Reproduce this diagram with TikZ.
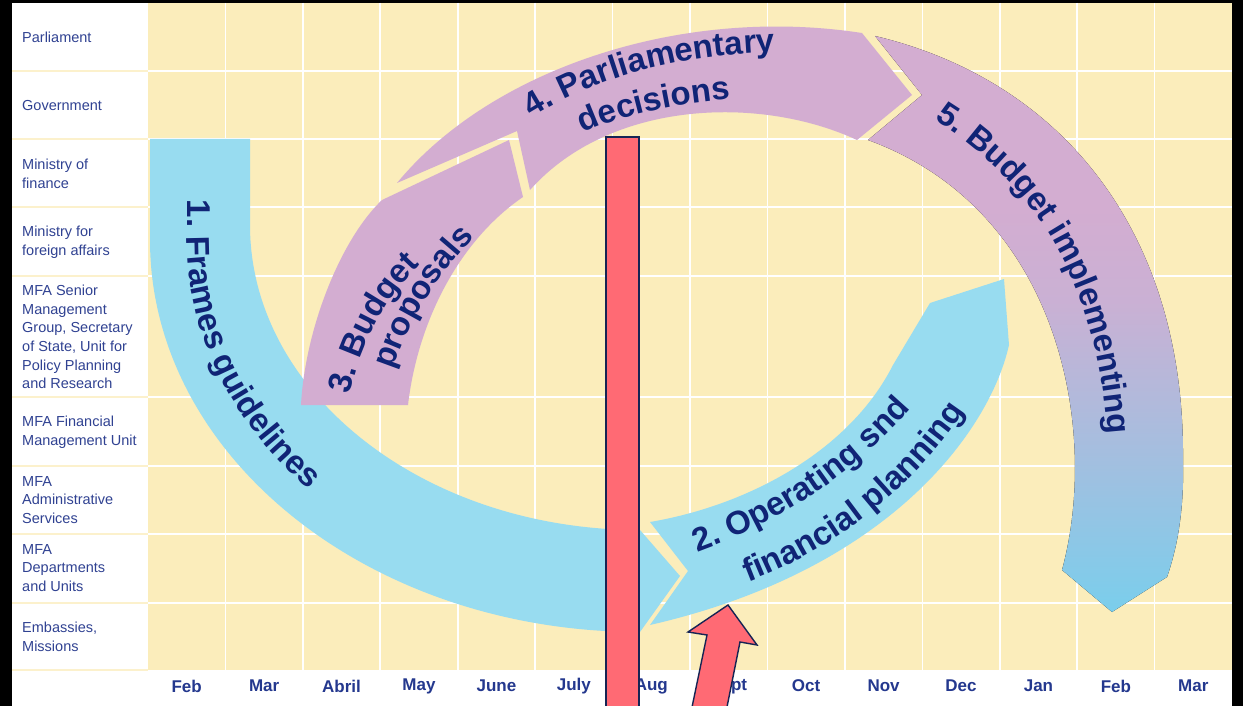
\documentclass[tikz,border=0pt]{standalone}
\usepackage{fontspec}
\setmainfont{Liberation Sans}
\usetikzlibrary{decorations.text}

\definecolor{bgYellow}{RGB}{251,237,187}
\definecolor{sepYellow}{RGB}{252,241,204}
\definecolor{arrBlue}{RGB}{152,220,240}
\definecolor{arrBlueEnd}{RGB}{122,206,236}
\definecolor{arrPurple}{RGB}{211,173,209}
\definecolor{txtNavy}{RGB}{16,36,118}
\definecolor{rowTxt}{RGB}{48,66,146}
\definecolor{monthTxt}{RGB}{36,56,142}
\definecolor{barRed}{RGB}{255,106,116}
\definecolor{barEdge}{RGB}{22,36,84}
\colorlet{implLow}{arrPurple!45!arrBlueEnd}
\colorlet{implHigh}{arrPurple!90!arrBlueEnd}

\pgfdeclareverticalshading{implshade}{100bp}{color(0bp)=(arrBlueEnd); color(25bp)=(arrBlueEnd);
  color(38bp)=(implLow); color(52bp)=(implHigh); color(60bp)=(arrPurple); color(100bp)=(arrPurple)}

\newcommand{\arrowtext}{\fontsize{33}{35}\selectfont\bfseries}

\begin{document}
\begin{tikzpicture}[x=1pt,y=-1pt]
\tikzset{
  row label/.style   = {anchor=west, align=left, text=rowTxt, inner sep=0,
                        font=\fontsize{14.5}{18.7}\selectfont},
  month label/.style = {text=monthTxt, inner sep=0, font=\fontsize{17}{17}\selectfont\bfseries},
  grid line/.style   = {draw=white, line width=1.6pt},
  sep line/.style    = {draw=sepYellow, line width=2.6pt},
  arrow blue/.style  = {fill=arrBlue},
  arrow purple/.style= {fill=arrPurple},
  arrow text/.style  = {decorate, decoration={text along path, text color=txtNavy, text={|\arrowtext|#1}}},
  red mark/.style    = {fill=barRed, draw=barEdge, line width=1.4pt, line join=miter}
}
\useasboundingbox (0,0) rectangle (1243,706);

% frame and grid
\fill[black] (0,0) rectangle (1243,706);
\fill[white] (12,3) rectangle (1232,706);
\fill[bgYellow] (148,3) rectangle (1232,670);
\foreach \k in {1,...,13}
  \draw[grid line] ({148+\k*77.43},3) -- ({148+\k*77.43},670);
\foreach \r in {71,139,207,276,397,466,534,603}
  \draw[grid line] (148,\r) -- (1232,\r);
\foreach \r in {71,139,207,276,397,466,534,603,670}
  \draw[sep line] (12,\r) -- (148,\r);

% rows
\node[row label] (parl) at (22,37)  {Parliament};
\node[row label] (gov)  at (22,106) {Government};
\node[row label] (mof)  at (22,174) {Ministry of\\finance};
\node[row label] (mfa)  at (22,242) {Ministry for\\foreign affairs};
\node[row label] (smg)  at (22,337) {MFA Senior\\Management\\Group, Secretary\\of State, Unit for\\Policy Planning\\and Research};
\node[row label] (fmu)  at (22,432) {MFA Financial\\Management Unit};
\node[row label] (adm)  at (22,500) {MFA\\Administrative\\Services};
\node[row label] (dep)  at (22,568) {MFA\\Departments\\and Units};
\node[row label] (emb)  at (22,637) {Embassies,\\Missions};

% months
\foreach \m [count=\i] in {Feb,Mar,Abril,May,June,July,Aug,Sept,Oct,Nov,Dec,Jan,Feb,Mar}
  \node[month label] (m\i) at ({148+(\i-0.5)*77.43},686) {\m};

% 1. frames
\fill[arrow blue] (150,139) -- (150,240) arc[start angle=180, end angle=90, x radius=490, y radius=392]
  -- (680,576) -- (640,530) arc[start angle=90, end angle=180, x radius=390, y radius=305] -- (250,139) -- cycle;
% 2. operating
\fill[arrow blue] (650,522) .. controls (750,505) and (850,450) .. (893,365) -- (930,303) -- (1004,279)
  -- (1009,345) .. controls (990,430) and (890,570) .. (650,625) -- (688,571) -- cycle;
% 3. proposals
\fill[arrow purple] (301,405) -- (408,405) .. controls (418,320) and (460,240) .. (523,197) -- (509,140)
  -- (382,200) .. controls (340,240) and (305,330) .. (301,405) -- cycle;
% 4. decisions
\fill[arrow purple] (397,183) .. controls (490,70) and (680,5) .. (862,33) -- (912,95) -- (857,140)
  .. controls (760,95) and (610,100) .. (530,190) -- (517,131) -- cycle;
% 5. implementing
\fill[shading=implshade]
  (875,36) .. controls (1060,80) and (1185,230) .. (1183,460) .. controls (1184,500) and (1180,540) .. (1167,577)
  -- (1112,612) -- (1062,570) .. controls (1100,430) and (1060,210) .. (868,140) -- (922,95) -- cycle;

% labels on the arrows
\path[arrow text={1. Frames guidelines}] (187,200) -- (187,240) arc[start angle=180, end angle=120, x radius=453, y radius=365];
\path[arrow text={2. Operating snd}] (697,552) .. controls (785,520) and (865,470) .. (930,385);
\path[arrow text={financial planning}] (748,582) .. controls (840,547) and (930,480) .. (988,372);
\path[arrow text={3. Budget}] (350,395) .. controls (362,340) and (387,292) .. (435,250);
\path[arrow text={proposals}] (393,370) .. controls (410,320) and (435,275) .. (487,224);
\path[arrow text={4. Parliamentary}] (532,118) .. controls (600,75) and (690,50) .. (810,52);
\path[arrow text={decisions}] (583,133) .. controls (630,112) and (690,100) .. (760,97);
\path[arrow text={5. Budget implementing}] (934,120) .. controls (1015,170) and (1108,265) .. (1110,480);

% red markers
\draw[red mark] (606,137) rectangle (639,712);
\draw[red mark] (691,712) -- (707,635) -- (688,632) -- (728,605) -- (757,645) -- (740,642) -- (726,712) -- cycle;
\end{tikzpicture}
\end{document}
